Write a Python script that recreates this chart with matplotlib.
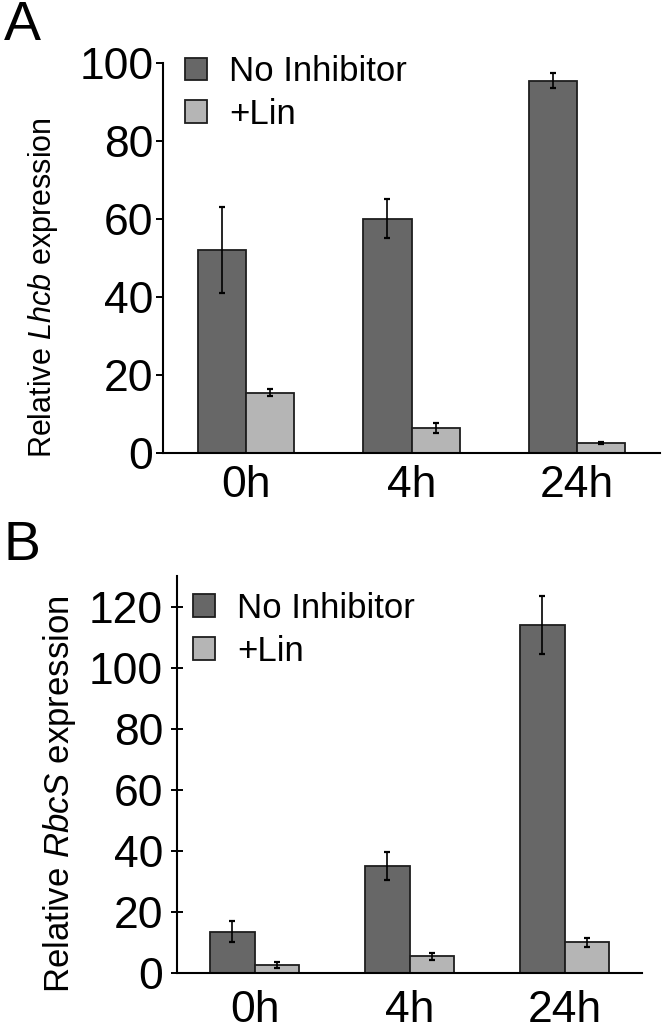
# -----------------------------
#   IMPORTS
# -----------------------------
import matplotlib
matplotlib.use("Agg")
import matplotlib.pyplot as plt
from matplotlib.patches import Patch
import numpy as np

# -----------------------------
#   DATA
# -----------------------------
times = ["0h", "4h", "24h"]
series = ["No Inhibitor", "+Lin"]

lhcb_no = [52, 60, 95.5]
lhcb_no_err = [11, 5, 2]
lhcb_lin = [15.5, 6.3, 2.5]
lhcb_lin_err = [1, 1.3, 0.3]

rbcs_no = [13.5, 35, 114]
rbcs_no_err = [3.5, 4.5, 9.5]
rbcs_lin = [2.5, 5.5, 10]
rbcs_lin_err = [1, 1.2, 1.5]

# -----------------------------
#   STYLE
# -----------------------------
plt.rcParams["font.family"] = ["Liberation Sans", "DejaVu Sans"]
plt.rcParams["mathtext.fontset"] = "custom"
plt.rcParams["mathtext.rm"] = "Liberation Sans"
plt.rcParams["mathtext.it"] = "Liberation Sans:italic"

DARK = "#676767"
LIGHT = "#b5b5b5"
EDGE = "#1e1e1e"


# -----------------------------
#   FUNCTIONS
# -----------------------------
def draw_panel(ax, no_vals, no_err, lin_vals, lin_err, ymax, gene, opts):
    # Two bars per time point, with their error bars on top
    x = np.arange(len(times))
    w = opts["width"]
    ax.bar(x - w / 2, no_vals, w, color=DARK, edgecolor=EDGE, linewidth=1.3)
    ax.bar(x + w / 2, lin_vals, w, color=LIGHT, edgecolor=EDGE, linewidth=1.3)
    for xs, vals, errs in [(x - w / 2, no_vals, no_err), (x + w / 2, lin_vals, lin_err)]:
        ax.errorbar(xs, vals, yerr=errs, fmt="none", ecolor="black",
                    elinewidth=1.2, capsize=2.5, capthick=1.6)
    ax.set_xlim(-0.5, 2.5)
    ax.set_ylim(0, ymax)
    ax.set_yticks(np.arange(0, ymax + 1, 20))
    ax.set_xticks(x)
    ax.set_xticklabels(times)
    for s in ["top", "right"]:
        ax.spines[s].set_visible(False)
    for s in ["left", "bottom"]:
        ax.spines[s].set_linewidth(1.5)
    ax.tick_params(axis="y", direction=opts["tickdir"], length=opts["ticklen"],
                   width=1.4, labelsize=32, pad=opts["ypad"])
    ax.tick_params(axis="x", length=0, labelsize=32, pad=opts["xpad"])
    ax.set_ylabel(r"Relative $\it{" + gene + r"}$ expression", fontsize=opts["labelsize"])
    ax.yaxis.set_label_coords(*opts["label_xy"])
    handles = [Patch(facecolor=DARK, edgecolor=EDGE, linewidth=1.3),
               Patch(facecolor=LIGHT, edgecolor=EDGE, linewidth=1.3)]
    ax.legend(handles, series, loc="upper left", bbox_to_anchor=opts["legend_pos"], frameon=False,
              fontsize=25, handlelength=0.62, handleheight=0.62,
              handletextpad=0.65, labelspacing=0.28, borderaxespad=0, borderpad=0)


# -----------------------------
#   FIGURE
# -----------------------------
fig = plt.figure(figsize=(6.64, 10.30), dpi=100)

axA = fig.add_axes([163 / 664, 1 - 453 / 1030, (660 - 163) / 664, (453 - 63) / 1030])
draw_panel(axA, lhcb_no, lhcb_no_err, lhcb_lin, lhcb_lin_err, 100, "Lhcb",
           {"width": 0.29, "tickdir": "out", "ticklen": 5, "ypad": 2, "xpad": 9,
            "labelsize": 22, "label_xy": (-0.207, 0.425), "legend_pos": (0.045, 1.02)})

axB = fig.add_axes([177 / 664, 1 - 973 / 1030, (642 - 177) / 664, (973 - 576) / 1030])
draw_panel(axB, rbcs_no, rbcs_no_err, rbcs_lin, rbcs_lin_err, 130, "RbcS",
           {"width": 0.285, "tickdir": "inout", "ticklen": 8, "ypad": 6, "xpad": 12,
            "labelsize": 25, "label_xy": (-0.213, 0.45), "legend_pos": (0.035, 0.96)})

fig.text(0.006, 1.0, "A", fontsize=40, va="top", ha="left")
fig.text(0.006, 0.495, "B", fontsize=40, va="top", ha="left")

fig.savefig("out.png", dpi=100)
